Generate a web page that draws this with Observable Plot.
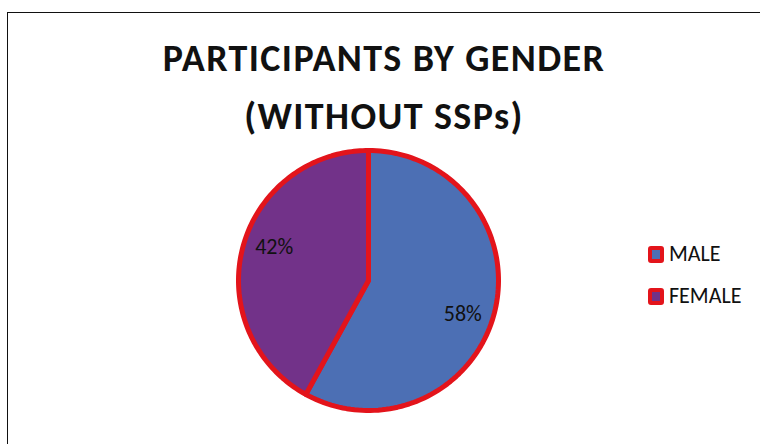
<!DOCTYPE html>
<html>
<head>
<meta charset="utf-8">
<script src="https://cdn.jsdelivr.net/npm/d3@7"></script>
<script src="https://cdn.jsdelivr.net/npm/@observablehq/plot@0.6"></script>
<style>
  html, body { margin: 0; padding: 0; background: #fff; }
  body { width: 760px; height: 444px; overflow: hidden; position: relative; font-family: Carlito, Calibri, Lato, sans-serif; }
  #frame { position: absolute; left: 7px; top: 12px; width: 800px; height: 500px; border: 1.5px solid #111; box-sizing: border-box; }
  #title { position: absolute; left: 0; width: 768px; top: 29px; text-align: center; font-weight: 700; font-size: 38px; letter-spacing: 1.4px; line-height: 58px; color: #111; }
  #chart { position: absolute; left: 0; top: 0; }
  .leg { position: absolute; left: 648px; height: 24px; font-size: 22px; line-height: 24px; color: #111; display: flex; align-items: center; }
  .sw { width: 8px; height: 9px; border: 4px solid #e3141b; border-radius: 3px; margin-right: 5px; }
</style>
</head>
<body>
<div id="frame"></div>
<div id="title">PARTICIPANTS BY GENDER<br>(WITHOUT SSPs)</div>
<div id="chart"></div>
<div id="legend"></div>
<script>
const categories = ["MALE", "FEMALE"];
const values = [58, 42];
const colors = ["#4c6fb4", "#723289"];
const labels = ["58%", "42%"];
const edgeColor = "#e3141b";

const pie = d3.pie().sort(null).value(d => d.value);
const arcs = pie(categories.map((c, i) => ({category: c, value: values[i], color: colors[i], label: labels[i]})));

const pts = [];
for (const a of arcs) {
  pts.push({cat: a.data.category, x: 0, y: 0});
  const n = 120;
  for (let k = 0; k <= n; k++) {
    const t = a.startAngle + (a.endAngle - a.startAngle) * k / n;
    pts.push({cat: a.data.category, x: Math.sin(t), y: Math.cos(t)});
  }
}
const labelPts = arcs.map(a => {
  const m = (a.startAngle + a.endAngle) / 2 + 0.09;
  return {label: a.data.label, x: 0.77 * Math.sin(m), y: 0.77 * Math.cos(m)};
});

const chart = Plot.plot({
  width: 760,
  height: 444,
  marginLeft: 238,
  marginRight: 262,
  marginTop: 150,
  marginBottom: 34,
  x: {domain: [-1, 1], axis: null},
  y: {domain: [-1, 1], axis: null},
  color: {domain: categories, range: colors},
  marks: [
    Plot.line(pts, {x: "x", y: "y", z: "cat", fill: "cat", stroke: edgeColor, strokeWidth: 5, curve: "linear-closed", strokeLinejoin: "round"}),
    Plot.text(labelPts, {x: "x", y: "y", text: "label", fontSize: 22, fill: "#111", fontFamily: "Carlito, Calibri, Lato, sans-serif"})
  ]
});
document.getElementById("chart").appendChild(chart);

const legend = document.getElementById("legend");
categories.forEach((c, i) => {
  const d = document.createElement("div");
  d.className = "leg";
  d.style.top = (242 + i * 42) + "px";
  const s = document.createElement("div");
  s.className = "sw";
  s.style.background = colors[i];
  d.appendChild(s);
  const t = document.createElement("span");
  t.textContent = c;
  d.appendChild(t);
  legend.appendChild(d);
});
</script>
</body>
</html>
